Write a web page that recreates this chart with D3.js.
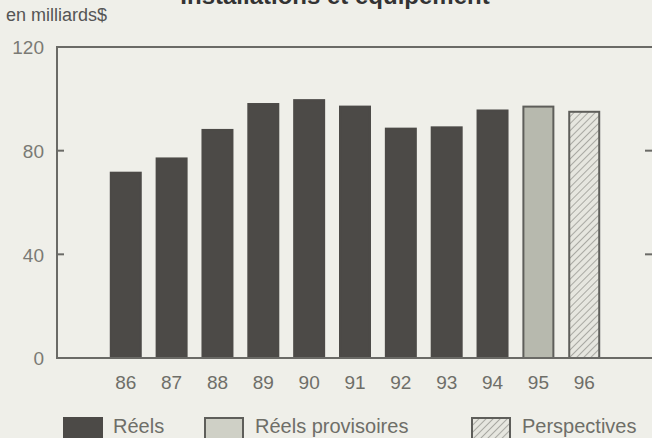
<!DOCTYPE html>
<html>
<head>
<meta charset="utf-8">
<script src="https://cdn.jsdelivr.net/npm/d3@7/dist/d3.min.js"></script>
<style>
  html, body { margin: 0; padding: 0; background: #efefe9; }
  svg { display: block; font-family: "Liberation Sans", Arial, sans-serif; }
</style>
</head>
<body>
<div id="chart"></div>
<script>
// data
const years = ['86', '87', '88', '89', '90', '91', '92', '93', '94', '95', '96'];
const values = [71.5, 77, 88, 98, 99.5, 97, 88.5, 89, 95.5, 97, 95];
const kinds = ['reel', 'reel', 'reel', 'reel', 'reel', 'reel', 'reel', 'reel', 'reel', 'prov', 'persp'];
const yTicks = [0, 40, 80, 120];
const legendItems = [
  { kind: 'reel', label: 'Réels' },
  { kind: 'prov', label: 'Réels provisoires' },
  { kind: 'persp', label: 'Perspectives' }
];

const width = 652, height = 438;
const frame = { left: 57, top: 47, right: 653, bottom: 358 };

const svg = d3.select('#chart')
  .append('svg')
  .attr('width', width)
  .attr('height', height);

// hatch pattern for "Perspectives"
const defs = svg.append('defs');
const hatch = defs.append('pattern')
  .attr('id', 'hatch')
  .attr('patternUnits', 'userSpaceOnUse')
  .attr('width', 5)
  .attr('height', 5)
  .attr('patternTransform', 'rotate(45)');
hatch.append('rect').attr('width', 5).attr('height', 5).attr('fill', '#e6e6df');
hatch.append('line')
  .attr('x1', 0).attr('y1', 0).attr('x2', 0).attr('y2', 5)
  .attr('stroke', '#9a9a94').attr('stroke-width', 1.6);

const fillFor = k => k === 'reel' ? '#4c4a47' : k === 'prov' ? '#b7b9ae' : 'url(#hatch)';
const strokeFor = k => k === 'reel' ? '#4c4a47' : '#5e5e5a';

const x = d3.scaleBand()
  .domain(years)
  .range([frame.left, frame.right])
  .paddingInner(0.346)
  .paddingOuter(1.173);

const y = d3.scaleLinear()
  .domain([0, 120])
  .range([frame.bottom, frame.top]);

// title (cut off at top in the original)
svg.append('text')
  .attr('x', 335)
  .attr('y', 4)
  .attr('text-anchor', 'middle')
  .style('font-size', '24px')
  .style('font-weight', 'bold')
  .style('fill', '#333')
  .text('Installations et équipement');

svg.append('text')
  .attr('x', 6)
  .attr('y', 21)
  .style('font-size', '18px')
  .style('fill', '#555')
  .text('en milliards$');

// bars
svg.append('g')
  .selectAll('rect')
  .data(years)
  .join('rect')
  .attr('x', d => x(d))
  .attr('y', (d, i) => y(values[i]))
  .attr('width', x.bandwidth())
  .attr('height', (d, i) => y(0) - y(values[i]))
  .attr('fill', (d, i) => fillFor(kinds[i]))
  .attr('stroke', (d, i) => strokeFor(kinds[i]))
  .attr('stroke-width', 2);

// frame
svg.append('rect')
  .attr('x', frame.left)
  .attr('y', frame.top)
  .attr('width', frame.right - frame.left)
  .attr('height', frame.bottom - frame.top)
  .attr('fill', 'none')
  .attr('stroke', '#6a6a66')
  .attr('stroke-width', 2);

// y axis labels and inner ticks
const yAxis = svg.append('g')
  .attr('transform', `translate(${frame.left - 13},0)`)
  .call(d3.axisLeft(y).tickValues(yTicks).tickSize(0).tickPadding(0));
yAxis.select('.domain').remove();
yAxis.selectAll('text')
  .attr('dy', '0.36em')
  .style('font-size', '19px')
  .style('font-family', '"Liberation Sans", Arial, sans-serif')
  .style('fill', '#7a7a74');

svg.append('g')
  .selectAll('line')
  .data([40, 80])
  .join('line')
  .attr('x1', frame.left)
  .attr('x2', frame.left + 7)
  .attr('y1', d => y(d))
  .attr('y2', d => y(d))
  .attr('stroke', '#6a6a66')
  .attr('stroke-width', 2);

svg.append('g')
  .selectAll('line')
  .data([40, 80])
  .join('line')
  .attr('x1', frame.right - 8)
  .attr('x2', frame.right)
  .attr('y1', d => y(d))
  .attr('y2', d => y(d))
  .attr('stroke', '#6a6a66')
  .attr('stroke-width', 2);

// x axis labels
const xAxis = svg.append('g')
  .attr('transform', `translate(0,${frame.bottom + 31})`)
  .call(d3.axisBottom(x).tickSize(0).tickPadding(0));
xAxis.select('.domain').remove();
xAxis.selectAll('text')
  .attr('dy', 0)
  .style('font-size', '19px')
  .style('font-family', '"Liberation Sans", Arial, sans-serif')
  .style('fill', '#6e6e68');

// legend
const legendX = [64, 205, 472];
const legend = svg.append('g')
  .selectAll('g')
  .data(legendItems)
  .join('g')
  .attr('transform', (d, i) => `translate(${legendX[i]},418)`);

legend.append('rect')
  .attr('width', 38)
  .attr('height', 22)
  .attr('fill', d => d.kind === 'prov' ? '#cfd0c6' : fillFor(d.kind))
  .attr('stroke', d => strokeFor(d.kind))
  .attr('stroke-width', 2);

legend.append('text')
  .attr('x', d => d.kind === 'reel' ? 49 : 50)
  .attr('y', 15)
  .style('font-size', '20px')
  .style('fill', '#6e6e68')
  .text(d => d.label);
</script>
</body>
</html>
